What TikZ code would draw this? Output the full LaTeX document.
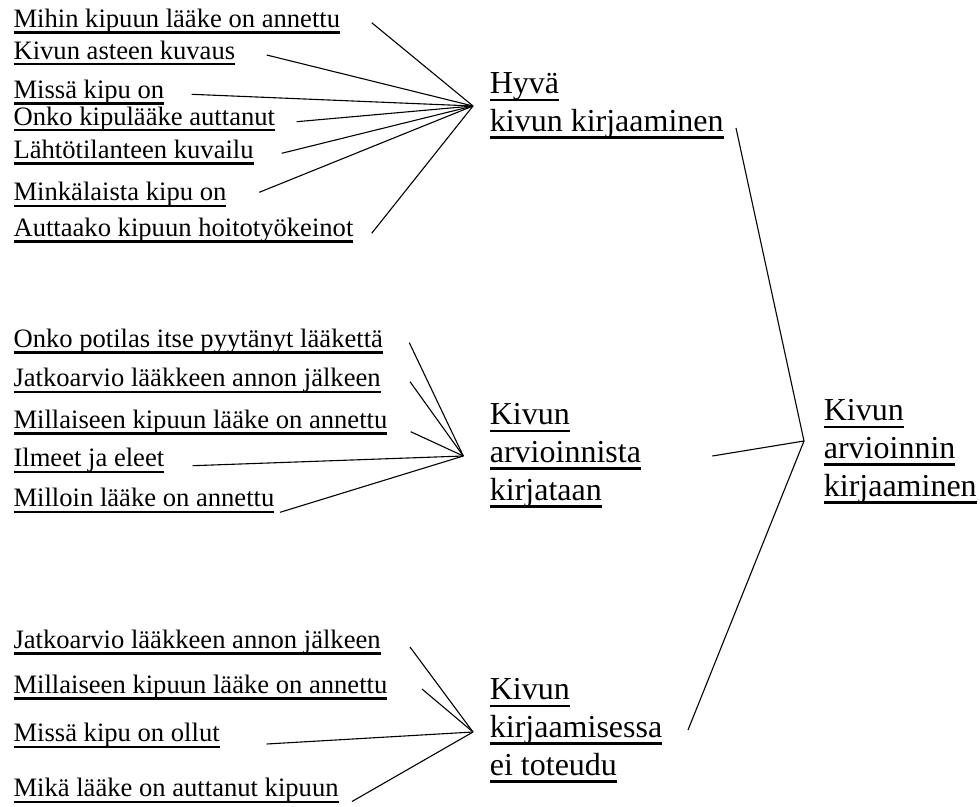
\documentclass[tikz,border=0pt]{standalone}
\usepackage{fontspec}
\setmainfont{Liberation Serif}
\usetikzlibrary{positioning}
\newcommand{\undl}[1]{\setbox0\hbox{#1}\rlap{\rule[-0.235em]{\wd0}{0.085em}}\box0}

\begin{document}
\begin{tikzpicture}[x=1pt,y=-1pt,line width=1.1pt,
  item/.style={anchor=base west,inner sep=0pt,font=\fontsize{26.6}{30}\selectfont},
  topic/.style={anchor=base west,inner sep=0pt,align=left,font=\fontsize{32}{37.6}\selectfont}]
	  \useasboundingbox (0,0) rectangle (980,806);

	  \node[item] (a1) at (13,27.3)  {\undl{Mihin kipuun lääke on annettu}};
	  \node[item] (a2) at (13,59)    {\undl{Kivun asteen kuvaus}};
	  \node[item] (a3) at (13,98.3)  {\undl{Missä kipu on}};
	  \node[item] (a4) at (13,125)   {\undl{Onko kipulääke auttanut}};
	  \node[item] (a5) at (13,158.3) {\undl{Lähtötilanteen kuvailu}};
	  \node[item] (a6) at (13,200.7) {\undl{Minkälaista kipu on}};
	  \node[item] (a7) at (13,236.3) {\undl{Auttaako kipuun hoitotyökeinot}};

	  \node[item] (b1) at (13,347.3) {\undl{Onko potilas itse pyytänyt lääkettä}};
	  \node[item] (b2) at (13,386.7) {\undl{Jatkoarvio lääkkeen annon jälkeen}};
	  \node[item] (b3) at (13,428.3) {\undl{Millaiseen kipuun lääke on annettu}};
	  \node[item] (b4) at (13,466.7) {\undl{Ilmeet ja eleet}};
	  \node[item] (b5) at (13,506.7) {\undl{Milloin lääke on annettu}};

	  \node[item] (c1) at (13,648.3) {\undl{Jatkoarvio lääkkeen annon jälkeen}};
	  \node[item] (c2) at (13,693.3) {\undl{Millaiseen kipuun lääke on annettu}};
	  \node[item] (c3) at (13,741.7) {\undl{Missä kipu on ollut}};
	  \node[item] (c4) at (13,796.7) {\undl{Mikä lääke on auttanut kipuun}};

	  \node[topic] (t1) at (489.3,131.5) {\undl{Hyvä}\\\undl{kivun kirjaaminen}};
	  \node[topic] (t2) at (489.3,500)   {\undl{Kivun}\\\undl{arvioinnista}\\\undl{kirjataan}};
	  \node[topic] (t3) at (489.3,775)   {\undl{Kivun}\\\undl{kirjaamisessa}\\\undl{ei toteudu}};
	  \node[topic] (m)  at (823.3,496)   {\undl{Kivun}\\\undl{arvioinnin}\\\undl{kirjaaminen}};

	  \coordinate (h1) at (473,106);
	  \coordinate (h2) at (463.3,456);
	  \coordinate (h3) at (473,732);
	  \coordinate (h0) at (804,441);

	  \coordinate (a1e) at (371.7,22.7);
	  \coordinate (a2e) at (266.7,55);
	  \coordinate (a3e) at (191.7,94.3);
	  \coordinate (a4e) at (296.7,121.7);
	  \coordinate (a5e) at (281.7,153.3);
	  \coordinate (a6e) at (259.3,192.3);
	  \coordinate (a7e) at (371.7,233.3);
	  \coordinate (b1e) at (409.3,342.7);
	  \coordinate (b2e) at (410,381.7);
	  \coordinate (b3e) at (410.7,431.7);
	  \coordinate (b4e) at (192.7,465.7);
	  \coordinate (b5e) at (280,512.3);
	  \coordinate (c1e) at (410,647);
	  \coordinate (c2e) at (422,689);
	  \coordinate (c3e) at (266.7,744);
	  \coordinate (c4e) at (352,801.5);
	  \coordinate (t1e) at (736,128);
	  \coordinate (t2e) at (712.3,456);
	  \coordinate (t3e) at (688,730);

	  \path
(a1e) edge (h1)
(a2e) edge (h1)
(a3e) edge (h1)
(a4e) edge (h1)
(a5e) edge (h1)
(a6e) edge (h1)
(a7e) edge (h1)

(b1e) edge (h2)
(b2e) edge (h2)
(b3e) edge (h2)
(b4e) edge (h2)
(b5e) edge (h2)

(c1e) edge (h3)
(c2e) edge (h3)
(c3e) edge (h3)
(c4e) edge (h3)

(t1e) edge (h0)
(t2e) edge (h0)
(t3e) edge (h0)
;
	\end{tikzpicture}
\end{document}
